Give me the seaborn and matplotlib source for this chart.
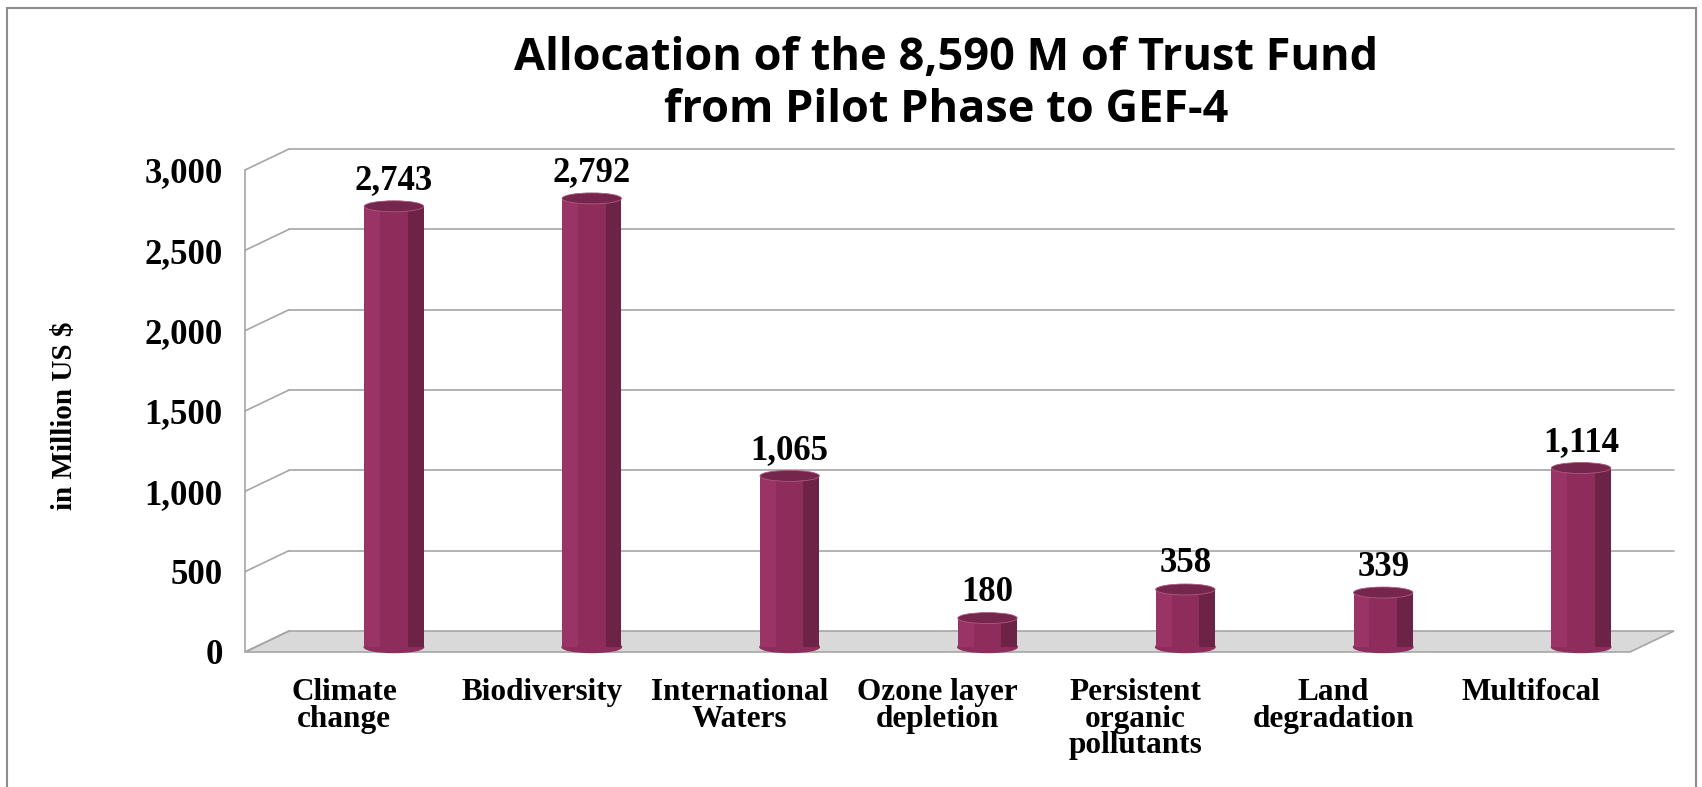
import matplotlib
matplotlib.use("Agg")
import matplotlib.pyplot as plt
import matplotlib.transforms as mtransforms
from matplotlib.patches import Polygon, Ellipse, Rectangle
import pandas as pd
import seaborn as sns

# data
categories = ["Climate\nchange", "Biodiversity", "International\nWaters",
              "Ozone layer\ndepletion", "Persistent\norganic\npollutants",
              "Land\ndegradation", "Multifocal"]
allocation = [2743, 2792, 1065, 180, 358, 339, 1114]
yticks = [0, 500, 1000, 1500, 2000, 2500, 3000]
title_lines = ["Allocation of the 8,590 M of Trust Fund", "from Pilot Phase to GEF-4"]
ylabel = "in Million US $"

MAIN = "#8E2D5B"
LIGHT = "#9B3466"
DARK = "#6C2346"
TOP = "#74264C"
GRID = "#A6A6A6"
FLOOR = "#D9D9D9"
SERIF = "Liberation Serif"

sns.set_style("white")
plt.rcParams["font.family"] = ["DejaVu Sans"]
plt.rcParams["text.color"] = "black"
plt.rcParams["xtick.labelcolor"] = "black"
plt.rcParams["ytick.labelcolor"] = "black"

W, H = 1702, 787
fig = plt.figure(figsize=(W / 100, H / 100), dpi=100)

# front plane of the 3D box in pixels
x0, x1, y0, ytop = 245, 1630, 652, 170
ax = fig.add_axes([x0 / W, (H - y0) / H, (x1 - x0) / W, (y0 - ytop) / H])
ax.set_facecolor("none")

ppx = (x1 - x0) / len(categories)      # pixels per category
ppy = (y0 - ytop) / yticks[-1]         # pixels per unit
depth_x, depth_y = 44, 21              # back wall offset in pixels
DX, DY = depth_x / ppx, depth_y / ppy

df = pd.DataFrame({"category": categories, "value": allocation})

# bars: front face, a lighter left strip and a darker side strip
bar_w, strip_w = 0.30, 0.08
sns.barplot(data=df, x="category", y="value", color=MAIN, width=bar_w,
            saturation=1, ax=ax, zorder=4)
sns.barplot(data=df, x="category", y="value", color=LIGHT, width=strip_w,
            saturation=1, ax=ax, zorder=5)
sns.barplot(data=df, x="category", y="value", color=DARK, width=strip_w,
            saturation=1, ax=ax, zorder=5)

shift_x, shift_y = 50, 5
strip_dx = (bar_w - strip_w) / 2 * ppx


def offset(dx_px, dy_px):
    return ax.transData + mtransforms.ScaledTranslation(dx_px / 100, dy_px / 100, fig.dpi_scale_trans)


bar_off = offset(shift_x, shift_y)
n = len(categories)
for k, dx in enumerate([0, -strip_dx, strip_dx]):
    for p in ax.patches[k * n:(k + 1) * n]:
        p.set_transform(offset(shift_x + dx, shift_y))
        p.set_linewidth(0)

ell_h = 11 / ppy
for i, v in enumerate(allocation):
    ax.add_patch(Ellipse((i, 0), bar_w, ell_h, transform=bar_off, color=MAIN, zorder=3, clip_on=False))
    ax.add_patch(Ellipse((i, v), bar_w, ell_h, transform=bar_off, facecolor=TOP,
                         edgecolor="#B0597F", lw=0.6, zorder=6, clip_on=False))
    ax.text(i, v, f"{v:,}", transform=offset(shift_x, 22), color="black",
            ha="center", va="baseline", fontsize=25, fontweight="bold", family=SERIF, zorder=7)

# floor, back wall grid and depth connectors
left, right = -0.5, n - 0.5
ax.add_patch(Polygon([[left, 0], [right, 0], [right + DX, DY], [left + DX, DY]],
                     closed=True, facecolor=FLOOR, edgecolor=GRID, lw=1.2, zorder=1, clip_on=False))
for t in yticks[1:]:
    ax.plot([left + DX, right + DX], [t + DY, t + DY], color=GRID, lw=1.2, zorder=1, clip_on=False)
for t in yticks:
    ax.plot([left, left + DX], [t, t + DY], color=GRID, lw=1.2, zorder=1, clip_on=False)
ax.plot([left, left], [0, yticks[-1]], color=GRID, lw=1.2, zorder=2, clip_on=False)

ax.set_xlim(left, right)
ax.set_ylim(0, yticks[-1])
for s in ax.spines.values():
    s.set_visible(False)

ax.set_yticks(yticks, [f"{t:,}" for t in yticks])
ax.tick_params(axis="y", length=10, width=1.2, color=GRID, pad=6, labelcolor="black")
for lab in ax.get_yticklabels():
    lab.set_fontfamily(SERIF)
    lab.set_fontweight("bold")
    lab.set_fontsize(25)

ax.set_xticks(range(n), categories)
ax.set_xticks([i - 0.5 for i in range(n + 1)], minor=True)
ax.tick_params(axis="x", which="major", length=0, pad=19, labelcolor="black")
ax.tick_params(axis="x", which="minor", length=12, width=1.2, color=GRID)
for lab in ax.get_xticklabels():
    lab.set_fontfamily(SERIF)
    lab.set_fontweight("bold")
    lab.set_fontsize(22.5)
    lab.set_linespacing(0.88)
    lab.set_verticalalignment("top")
ax.set_xlabel("")
ax.set_ylabel("")

fig.text(65 / W, 1 - 416 / H, ylabel, rotation=90, ha="center", va="center",
         fontsize=21, fontweight="bold", family=SERIF, color="black")
fig.text(946 / W, 1 - 70 / H, title_lines[0], ha="center", va="baseline",
         fontsize=32.5, fontweight="bold", family="Open Sans", color="black")
fig.text(946 / W, 1 - 122 / H, title_lines[1], ha="center", va="baseline",
         fontsize=32.5, fontweight="bold", family="Open Sans", color="black")

fig.patches.append(Rectangle((7 / W, -0.05), (1696 - 7) / W, 1.05 - 8 / H, transform=fig.transFigure,
                             fill=False, edgecolor="#8C8C8C", lw=1.5))

fig.savefig("out.png", dpi=100)
